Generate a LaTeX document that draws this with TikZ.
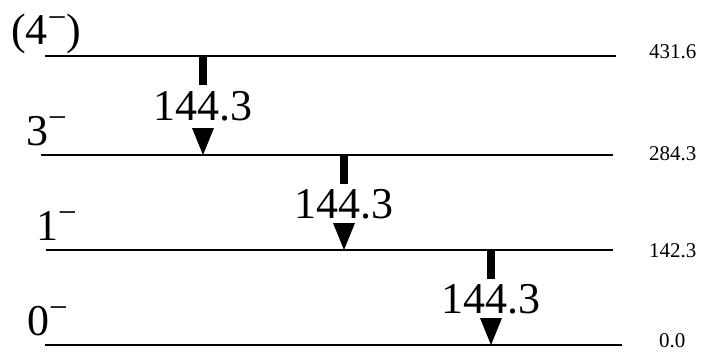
\documentclass[tikz,border=0pt]{standalone}
\usepackage{fontspec}
\setmainfont{Liberation Serif}
\newcommand\supmin{\raisebox{17pt}{\fontsize{33}{33}\selectfont −}}
\begin{document}
\begin{tikzpicture}[x=1pt,y=-1pt,
  level/.style={line width=1.6pt},
  stem/.style={line width=8pt},
  head/.style={fill=black},
  big/.style={font=\fontsize{44}{44}\selectfont, inner sep=0pt},
  small/.style={font=\fontsize{21}{21}\selectfont, inner sep=0pt, anchor=base west},
  spin/.style={big, anchor=base west}]
\useasboundingbox (0,0) rectangle (710,356);
% levels
\coordinate (L4a) at (45,56);  \coordinate (L4b) at (616,56);
\coordinate (L3a) at (41,155); \coordinate (L3b) at (613,155);
\coordinate (L1a) at (46,250); \coordinate (L1b) at (613,250);
\coordinate (L0a) at (45,345); \coordinate (L0b) at (622,345);
\draw[level] (L4a) -- (L4b);
\draw[level] (L3a) -- (L3b);
\draw[level] (L1a) -- (L1b);
\draw[level] (L0a) -- (L0b);
% spin labels
\node[spin] (s4) at (11,45) {(4\supmin)};
\node[spin] (s3) at (26,145) {3\supmin};
\node[spin] (s1) at (36,240) {1\supmin};
\node[spin] (s0) at (27,335) {0\supmin};
% energies
\node[small] (e4) at (649,58) {431.6};
\node[small] (e3) at (649,160) {284.3};
\node[small] (e1) at (649,257) {142.3};
\node[small] (e0) at (659,347) {0.0};
% transitions
\foreach \n/\x/\yt/\yb/\yl in {1/203/56/155/120, 2/344/155/250/218, 3/491/250/345/313}{
  \coordinate (t\n) at (\x,\yt);
  \coordinate (b\n) at (\x,\yt+29);
  \coordinate (h\n) at (\x,\yb);
  \draw[stem] (t\n) -- (b\n);
  \node[big, anchor=base] (g\n) at (\x,\yl) {144.3};
  \fill[head] (h\n) -- ++(-11,-27) -- ++(22,0) -- cycle;
}
\end{tikzpicture}
\end{document}
